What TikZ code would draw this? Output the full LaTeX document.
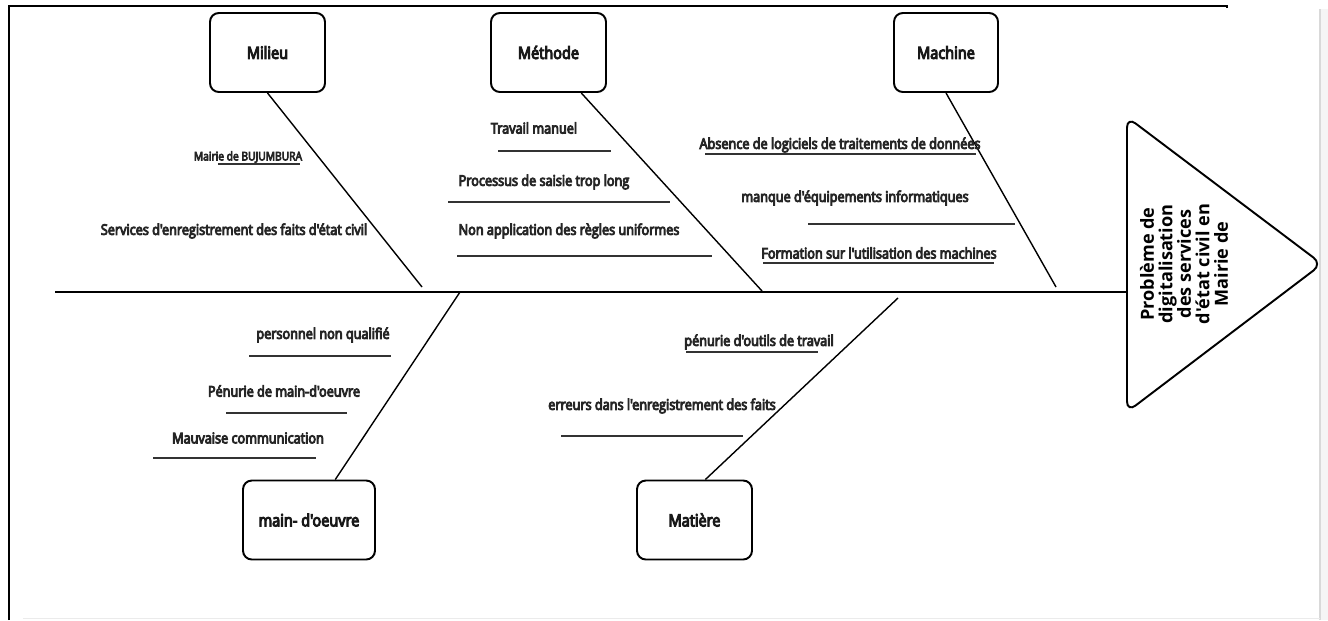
\documentclass[tikz,border=0pt]{standalone}
\usepackage{fontspec}
\setmainfont{Open Sans}
\newfontfamily\causefont[FakeStretch=0.86,FakeBold=6,Ligatures=TeXOff]{Open Sans}
\newfontfamily\headfont[Ligatures=TeXOff]{Open Sans}

\begin{document}
\begin{tikzpicture}[x=0.02cm, y=-0.02cm, line width=0.9pt,
  cat/.style={draw, rounded corners=5pt, line width=1.1pt, minimum width=2.3cm,
    minimum height=1.58cm, font=\causefont\fontsize{9.6}{12}\selectfont, text=black!90},
  cause/.style={font=\causefont\fontsize{8.4}{9}\selectfont, text=black!85, inner sep=0pt},
  bone/.style={line width=0.8pt},
  rule/.style={line width=1.1pt, black!80}]

\useasboundingbox (0,0) rectangle (1328,620);

% page edges
\fill[black!4] (1320,9) rectangle (1328,620);
\draw[black!15, line width=0.6pt] (1320,9) -- (1320,620);
\draw[black!8, line width=0.5pt] (23,618) -- (1320,618);
\draw[line width=1pt] (9,620) -- (9,6) -- (1227,6) -- (1227,8);

% head and spine
\draw[line width=1.1pt, rounded corners=6pt] (1127,117) -- (1322,264) -- (1127,412) -- cycle;
\node[rotate=90, align=center, font=\headfont\bfseries\fontsize{10.3}{10.5}\selectfont] (probleme)
  at (1184,264) {Problème de\\digitalisation\\des services\\d'état civil en\\Mairie de};
\coordinate (head) at (1127,292);
\coordinate (tail) at (55,292);
\draw[line width=1.2pt] (tail) -- (head);

% Milieu
\node[cat] (milieu) at (267.5,52.5) {Milieu};
\coordinate (jMil) at (422,287);
\draw[bone] (milieu.south) -- (jMil);
\node[cause, font=\causefont\fontsize{6.8}{8}\selectfont] (bujumbura) at (248,157) {Mairie de BUJUMBURA};
\draw[rule] (218,164) -- (300,164);
\node[cause] (services) at (234,231) {Services d'enregistrement des faits d'état civil};

% Methode
\node[cat] (methode) at (548.5,52.5) {Méthode};
\coordinate (jMet) at (762,291);
\draw[bone] (methode.-51) -- (jMet);
\node[cause] (travail) at (534,128) {Travail manuel};
\draw[rule] (498,151) -- (611,151);
\node[cause] (processus) at (544,182) {Processus de saisie trop long};
\draw[rule] (448,202) -- (670,202);
\node[cause] (regles) at (569,231) {Non application des règles uniformes};
\draw[rule] (457,256) -- (712,256);

% Machine
\node[cat, minimum width=2.08cm] (machine) at (946,52.5) {Machine};
\coordinate (jMac) at (1056,287);
\draw[bone] (machine.south) -- (jMac);
\node[cause] (logiciels) at (840,145) {Absence de logiciels de traitements de données};
\draw[rule] (705,154) -- (976,154);
\node[cause] (equipements) at (855,198) {manque d'équipements informatiques};
\draw[rule] (808,224) -- (1015,224);
\node[cause] (formation) at (879,253) {Formation sur l'utilisation des machines};
\draw[rule] (763,263) -- (994,263);

% main-d'oeuvre
\node[cat, minimum width=2.64cm] (oeuvre) at (309,520) {main- d'oeuvre};
\coordinate (jOeu) at (460,292);
\draw[bone] (oeuvre.57) -- (jOeu);
\node[cause] (personnel) at (323,335) {personnel non qualifié};
\draw[rule] (249,356) -- (391,356);
\node[cause] (penurie) at (284,391) {Pénurie de main-d'oeuvre};
\draw[rule] (226,413) -- (347,413);
\node[cause] (communication) at (248,438) {Mauvaise communication};
\draw[rule] (153,458) -- (316,458);

% Matiere
\node[cat] (matiere) at (694.5,520) {Matière};
\coordinate (jMat) at (898,298);
\draw[bone] (matiere.75) -- (jMat);
\node[cause] (outils) at (759,342) {pénurie d'outils de travail};
\draw[rule] (686,352) -- (818,352);
\node[cause] (erreurs) at (662,406) {erreurs dans l'enregistrement des faits};
\draw[rule] (561,436) -- (743,436);

\end{tikzpicture}
\end{document}
